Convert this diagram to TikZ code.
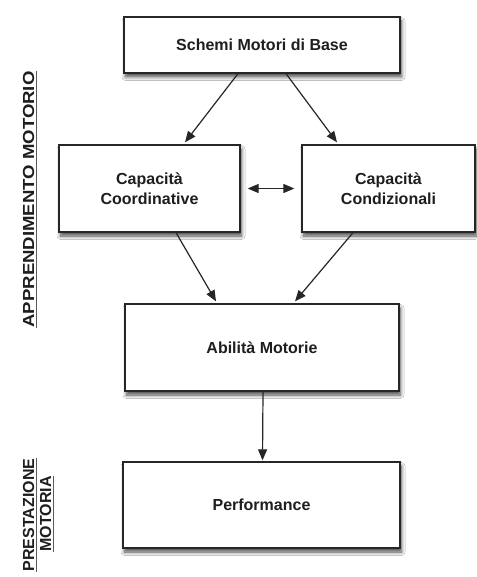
\documentclass[tikz,border=0pt]{standalone}
\usepackage{fontspec}
\setmainfont{Liberation Sans}
\usetikzlibrary{arrows.meta,calc,shadows.blur}
\definecolor{edge}{HTML}{262626}
\definecolor{txt}{HTML}{1E1E1E}
\definecolor{uline}{HTML}{5A5A5A}
\begin{document}
\begin{tikzpicture}[x=1pt,y=-1pt,
  box/.style={draw=edge, line width=1.3pt, fill=white, rectangle, inner sep=0pt,
    align=center, text=txt, font=\bfseries\fontsize{16}{19.5}\selectfont,
    blur shadow={shadow xshift=1.5pt, shadow yshift=-4pt, shadow blur radius=3.5pt, shadow blur steps=8, shadow opacity=70}},
  tip/.tip={Triangle[length=11pt,width=9pt]},
  arr/.style={draw=edge, line width=1.2pt, -tip},
  arrd/.style={draw=edge, line width=1.2pt, tip-tip},
  side/.style={rotate=90, anchor=base, text=txt, font=\bfseries\fontsize{16}{19}\selectfont, inner sep=0pt},
  ul/.style={draw=uline, line width=1.2pt}
]
\useasboundingbox (0,0) rectangle (476,577);
\fill[white] (0,0) rectangle (476,577);

\node[box, minimum width=276pt, minimum height=56pt] (s) at (262,45) {Schemi Motori di Base};
\node[box, minimum width=181pt, minimum height=87pt] (cc) at (149.5,188.5) {Capacità\\Coordinative};
\node[box, minimum width=173pt, minimum height=87pt] (cd) at (388.5,188.5) {Capacità\\Condizionali};
\node[box, minimum width=274pt, minimum height=87pt] (ab) at (262,347.5) {Abilità Motorie};
\node[box, minimum width=277pt, minimum height=86pt] (pf) at (261.5,505) {Performance};

\draw[arr] ([xshift=-24pt]s.south) -- ([xshift=35.5pt,yshift=2pt]cc.north);
\draw[arr] ([xshift=24pt]s.south) -- ([xshift=-51.5pt,yshift=2pt]cd.north);
\draw[arrd] ([xshift=7pt]cc.east) -- ([xshift=-7pt]cd.west);
\draw[arr] ([xshift=26.5pt]cc.south) -- ([xshift=-46pt,yshift=2pt]ab.north);
\draw[arr] ([xshift=-35.5pt]cd.south) -- ([xshift=33pt,yshift=2pt]ab.north);
\draw[arr] ([xshift=1pt]ab.south) -- ([xshift=1pt,yshift=1pt]pf.north);

\node[side] (l1) at (34,199.5) {\scalebox{1.16}[1]{APPRENDIMENTO MOTORIO}};
\draw[ul] (36.8,71) -- (36.8,328);
\node[side] (l2) at (34,515) {PRESTAZIONE};
\draw[ul] (36.8,458) -- (36.8,572);
\node[side] (l3) at (51,514) {MOTORIA};
\draw[ul] (53.8,476) -- (53.8,552);
\end{tikzpicture}
\end{document}
